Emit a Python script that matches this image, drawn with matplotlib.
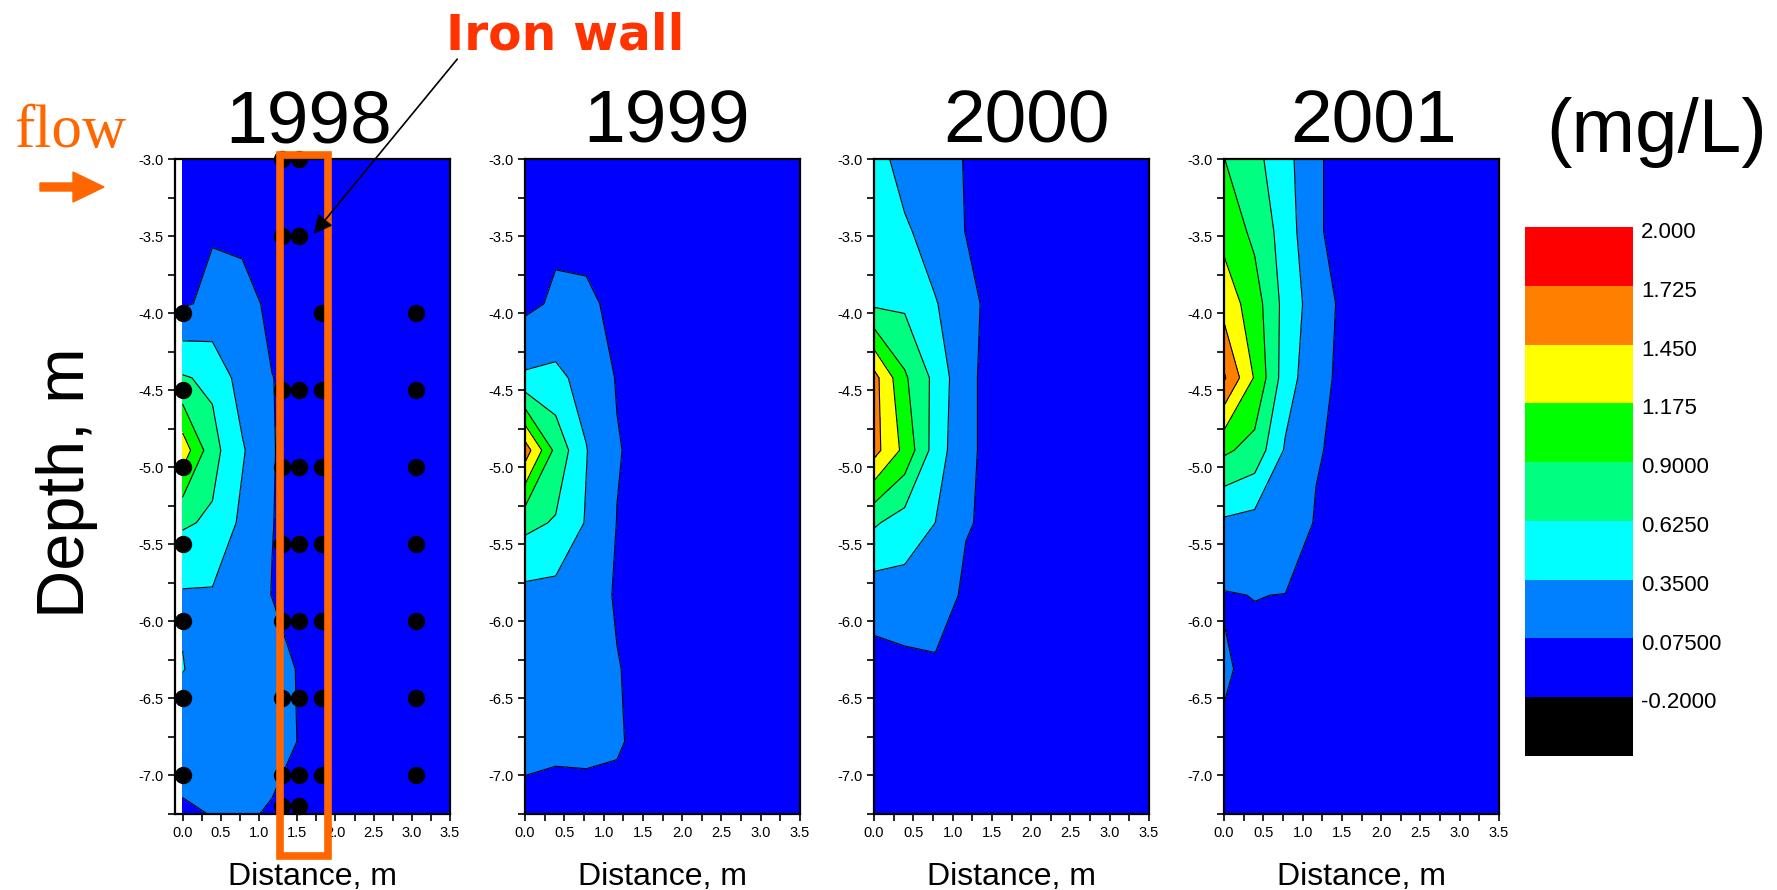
import numpy as np
import matplotlib
matplotlib.use('Agg')
import matplotlib.pyplot as plt
import matplotlib.transforms as mtransforms
from matplotlib.patches import Rectangle, FancyArrow, FancyArrowPatch
from matplotlib.ticker import MultipleLocator, FormatStrFormatter

plt.rcParams['font.family'] = ['Liberation Sans', 'DejaVu Sans']

# interpolation grid (distance from source, m) x (depth, m)
dist = [0.0, 0.39, 0.78, 1.17, 1.56, 1.94, 2.33, 2.72, 3.11, 3.5]
depth = [-3.0, -3.47, -3.94, -4.42, -4.89, -5.36, -5.83, -6.31, -6.78, -7.25]

# concentration, mg/L (rows = depth, cols = dist)
conc_1998 = [
    [0.00, 0.00,  0.00,  0.00,  0.00, 0, 0, 0, 0, 0],
    [0.00, 0.062, 0.00,  0.00,  0.00, 0, 0, 0, 0, 0],
    [0.05, 0.12,  0.197, 0.00,  0.00, 0, 0, 0, 0, 0],
    [0.65, 0.57,  0.226, 0.08,  0.00, 0, 0, 0, 0, 0],
    [1.34, 0.72,  0.38,  0.085, 0.00, 0, 0, 0, 0, 0],
    [0.66, 0.584, 0.29,  0.08,  0.00, 0, 0, 0, 0, 0],
    [0.32, 0.32,  0.20,  0.07,  0.00, 0, 0, 0, 0, 0],
    [0.36, 0.23,  0.20,  0.20,  0.04, 0, 0, 0, 0, 0],
    [0.16, 0.20,  0.20,  0.20,  0.05, 0, 0, 0, 0, 0],
    [0.05, 0.08,  0.125, 0.04,  0.00, 0, 0, 0, 0, 0],
]
conc_1999 = [
    [0.00,  0.00,  0.00,  0.00,  0.0, 0, 0, 0, 0, 0],
    [0.00,  0.03,  -0.02, 0.00,  0.0, 0, 0, 0, 0, 0],
    [0.011, 0.115, 0.134, 0.00,  0.0, 0, 0, 0, 0, 0],
    [0.39,  0.416, 0.255, 0.06,  0.0, 0, 0, 0, 0, 0],
    [1.60,  0.82,  0.36,  0.09,  0.0, 0, 0, 0, 0, 0],
    [0.70,  0.60,  0.33,  0.07,  0.0, 0, 0, 0, 0, 0],
    [0.27,  0.26,  0.20,  0.05,  0.0, 0, 0, 0, 0, 0],
    [0.25,  0.20,  0.18,  0.087, 0.0, 0, 0, 0, 0, 0],
    [0.15,  0.15,  0.15,  0.10,  0.0, 0, 0, 0, 0, 0],
    [-0.01, -0.07, -0.05, 0.00,  0.0, 0, 0, 0, 0, 0],
]
conc_2000 = [
    [0.50,  0.206, 0.20, 0.06, 0.0, 0, 0, 0, 0, 0],
    [0.55,  0.40,  0.20, 0.07, 0.0, 0, 0, 0, 0, 0],
    [0.58,  0.578, 0.37, 0.14, 0.0, 0, 0, 0, 0, 0],
    [1.55,  0.94,  0.55, 0.12, 0.0, 0, 0, 0, 0, 0],
    [1.55,  1.10,  0.50, 0.12, 0.0, 0, 0, 0, 0, 0],
    [0.66,  0.50,  0.35, 0.10, 0.0, 0, 0, 0, 0, 0],
    [0.20,  0.24,  0.30, 0.00, 0.0, 0, 0, 0, 0, 0],
    [-0.03, 0.00,  0.01, 0.00, 0.0, 0, 0, 0, 0, 0],
    [0.00,  0.00,  0.00, 0.00, 0.0, 0, 0, 0, 0, 0],
    [0.00,  0.00,  0.00, 0.00, 0.0, 0, 0, 0, 0, 0],
]
conc_2001 = [
    [0.905, 0.70,  0.45, 0.10, 0.0, 0, 0, 0, 0, 0],
    [1.086, 0.835, 0.50, 0.10, 0.0, 0, 0, 0, 0, 0],
    [1.347, 1.03,  0.53, 0.21, 0.0, 0, 0, 0, 0, 0],
    [1.76,  1.15,  0.48, 0.16, 0.0, 0, 0, 0, 0, 0],
    [0.95,  0.80,  0.32, 0.10, 0.0, 0, 0, 0, 0, 0],
    [0.30,  0.25,  0.30, 0.05, 0.0, 0, 0, 0, 0, 0],
    [0.06,  0.08,  0.07, 0.00, 0.0, 0, 0, 0, 0, 0],
    [0.10,  0.02,  0.00, 0.00, 0.0, 0, 0, 0, 0, 0],
    [0.047, 0.00,  0.00, 0.00, 0.0, 0, 0, 0, 0, 0],
    [0.00,  0.00,  0.00, 0.00, 0.0, 0, 0, 0, 0, 0],
]
years = ['1998', '1999', '2000', '2001']
grids = [conc_1998, conc_1999, conc_2000, conc_2001]

levels = [-0.475, -0.2, 0.075, 0.35, 0.625, 0.9, 1.175, 1.45, 1.725, 2.0]
level_labels = ['-0.2000', '0.07500', '0.3500', '0.6250', '0.9000',
                '1.175', '1.450', '1.725', '2.000']
colors = ['#000000', '#0000FF', '#0080FF', '#00FFFF', '#00FF80',
          '#00FF00', '#FFFF00', '#FF8000', '#FF0000']

# monitoring wells in 1998 (distance, depths)
well_x = [0.0, 1.30, 1.52, 1.83, 3.05]
well_depths = [
    [-4.0, -4.5, -5.0, -5.5, -6.0, -6.5, -7.0],
    [-3.0, -3.5, -4.5, -5.0, -5.5, -6.0, -6.5, -7.0, -7.2],
    [-3.0, -3.5, -4.5, -5.0, -5.5, -6.0, -6.5, -7.0, -7.2],
    [-4.0, -4.5, -5.0, -5.5, -6.0, -6.5, -7.0],
    [-4.0, -4.5, -5.0, -5.5, -6.0, -6.5, -7.0],
]

W, H = 1777, 890
fig = plt.figure(figsize=(W / 100, H / 100), dpi=100)

lefts = [175, 525, 874, 1224]
title_x = [0.485, 0.513, 0.556, 0.544]
axes = []
for i in range(4):
    ax = fig.add_axes([lefts[i] / W, 76 / H, 275 / W, 655 / H])
    Z = np.array(grids[i])
    cs = ax.contourf(dist, depth, Z, levels=levels, colors=colors)
    ax.contour(dist, depth, Z, levels=levels[2:-1], colors='k', linewidths=0.8)
    ax.set_xlim(-0.1 if i == 0 else 0.0, 3.5)
    ax.set_ylim(-7.25, -3.0)
    ax.xaxis.set_major_locator(MultipleLocator(0.5))
    ax.xaxis.set_minor_locator(MultipleLocator(0.25))
    ax.yaxis.set_major_locator(MultipleLocator(0.5))
    ax.yaxis.set_minor_locator(MultipleLocator(0.25))
    ax.xaxis.set_major_formatter(FormatStrFormatter('%.1f'))
    ax.yaxis.set_major_formatter(FormatStrFormatter('%.1f'))
    ax.tick_params(which='both', direction='out', width=1.2, length=5,
                   labelsize=10.5, top=False, right=False)
    for s in ax.spines.values():
        s.set_linewidth(1.6)
    ax.set_xlabel('Distance, m', fontsize=23, labelpad=16)
    ax.set_title(years[i], fontsize=54, pad=12, x=title_x[i])
    axes.append(ax)

# wells and the iron wall in the first panel
ax0 = axes[0]
for x, ds in zip(well_x, well_depths):
    ax0.plot([x] * len(ds), ds, 'o', color='black', markersize=11.5,
             clip_on=False, zorder=5)
ax0.add_patch(Rectangle((1.274, -7.52), 0.626, 4.546, fill=False,
                        edgecolor='#FF6600', linewidth=5.5, clip_on=False,
                        zorder=6))

fig.text(67 / W, 0.458, 'Depth, m', rotation=90, fontsize=48,
         ha='center', va='center')

# colour scale, labels sit just under each boundary
cax = fig.add_axes([1525 / W, 134 / H, 108 / W, 529 / H])
cb = fig.colorbar(cs, cax=cax)
cb.outline.set_visible(False)
cb.set_ticks([])
lab_tr = (mtransforms.blended_transform_factory(cax.transAxes, cax.transData)
          + mtransforms.ScaledTranslation(6 / 72, -4 / 72, fig.dpi_scale_trans))
for lev, lab in zip(levels[1:], level_labels):
    cax.text(1.0, lev, lab, transform=lab_tr, fontsize=16,
             ha='left', va='center')

fig.text(1657 / W, 1 - 133 / H, '(mg/L)', fontsize=55, ha='center', va='center')

# flow direction
fig.text(14 / W, 1 - 147 / H, 'flow', fontsize=44, color='#FF6600',
         family='Liberation Serif', ha='left', va='baseline')
fig.patches.append(FancyArrow(0.40, (H - 187) / 100, 0.64, 0, width=0.08,
                              head_width=0.30, head_length=0.31,
                              length_includes_head=True, color='#FF6600',
                              transform=fig.dpi_scale_trans, figure=fig))

fig.text(565 / W, 1 - 35 / H, 'Iron wall', fontsize=35, fontweight='bold',
         color='#FF3300', family='DejaVu Sans', ha='center', va='center')
fig.add_artist(FancyArrowPatch(
    (459 / W, 1 - 57 / H), (312 / W, 1 - 236 / H),
    transform=fig.transFigure, arrowstyle='-|>', mutation_scale=28,
    color='black', linewidth=1.2))

fig.savefig('out.png', dpi=100)
